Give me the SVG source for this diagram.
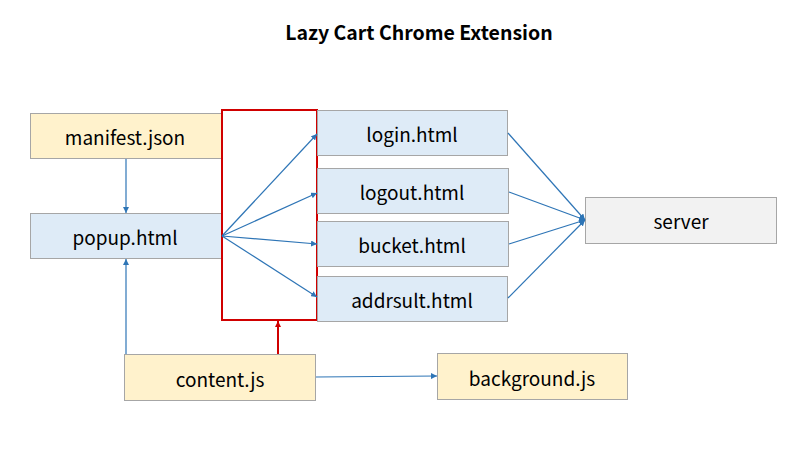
<svg xmlns="http://www.w3.org/2000/svg" width="800" height="453" viewBox="0 0 800 453">
<style>
.t{font-family:"Noto Sans CJK KR","Noto Sans",sans-serif;font-size:19px;fill:#000;text-anchor:middle;dominant-baseline:central}
.y{fill:#FFF2CC;stroke:#A6A6A6;stroke-width:1}
.b{fill:#DEEBF7;stroke:#A6A6A6;stroke-width:1}
.g{fill:#F2F2F2;stroke:#A6A6A6;stroke-width:1}
.c{stroke:#2E75B6;stroke-width:1.2;fill:none;marker-end:url(#ab)}
</style>
<defs>
<marker id="ab" viewBox="0 0 10 10" refX="10" refY="5" markerWidth="6" markerHeight="6" markerUnits="userSpaceOnUse" orient="auto"><path d="M0,0L10,5L0,10z" fill="#2E75B6"/></marker>
<marker id="ar" viewBox="0 0 10 10" refX="10" refY="5" markerWidth="6" markerHeight="6" markerUnits="userSpaceOnUse" orient="auto"><path d="M0,0L10,5L0,10z" fill="#D00000"/></marker>
</defs>
<rect width="800" height="453" fill="#fff"/>
<text x="419" y="31" class="t" style="font-weight:bold;font-size:19.5px">Lazy Cart Chrome Extension</text>
<g id="manifest"><rect class="y" x="30.5" y="113.5" width="192" height="45"/><text class="t" x="125" y="136">manifest.json</text></g>
<g id="popup"><rect class="b" x="30.5" y="213.5" width="192" height="45"/><text class="t" x="125" y="236">popup.html</text></g>
<g id="pages"><rect x="222" y="110" width="95" height="210" fill="#fff" stroke="#D00000" stroke-width="2"/></g>
<g id="login"><rect class="b" x="317.5" y="110.5" width="190" height="45"/><text class="t" x="412" y="133">login.html</text></g>
<g id="logout"><rect class="b" x="317.5" y="168.5" width="191" height="45"/><text class="t" x="412" y="191">logout.html</text></g>
<g id="bucket"><rect class="b" x="317.5" y="221.5" width="191" height="45"/><text class="t" x="412" y="244">bucket.html</text></g>
<g id="addrsult"><rect class="b" x="317.5" y="276.5" width="190" height="45"/><text class="t" x="412" y="299">addrsult.html</text></g>
<g id="server"><rect class="g" x="585.5" y="197.5" width="191" height="46"/><text class="t" x="681" y="220">server</text></g>
<g id="content"><rect class="y" x="124.5" y="354.5" width="191" height="46"/><text class="t" x="220" y="378">content.js</text></g>
<g id="background"><rect class="y" x="437.5" y="353.5" width="190" height="46"/><text class="t" x="532" y="377">background.js</text></g>
<g id="connectors">
<line class="c" x1="126" y1="159" x2="126" y2="213"/>
<line class="c" x1="126" y1="354" x2="126" y2="259"/>
<line class="c" x1="222" y1="236" x2="317" y2="134"/>
<line class="c" x1="222" y1="236" x2="317" y2="193"/>
<line class="c" x1="222" y1="236" x2="317" y2="244"/>
<line class="c" x1="222" y1="236" x2="317" y2="297"/>
<line class="c" x1="508" y1="133" x2="585" y2="220"/>
<line class="c" x1="509" y1="192" x2="585" y2="220"/>
<line class="c" x1="509" y1="244" x2="585" y2="220"/>
<line class="c" x1="508" y1="298" x2="585" y2="220"/>
<line class="c" x1="316" y1="377" x2="437" y2="376"/>
<line x1="278" y1="354" x2="278" y2="321" stroke="#D00000" stroke-width="2" marker-end="url(#ar)"/>
</g>
</svg>
